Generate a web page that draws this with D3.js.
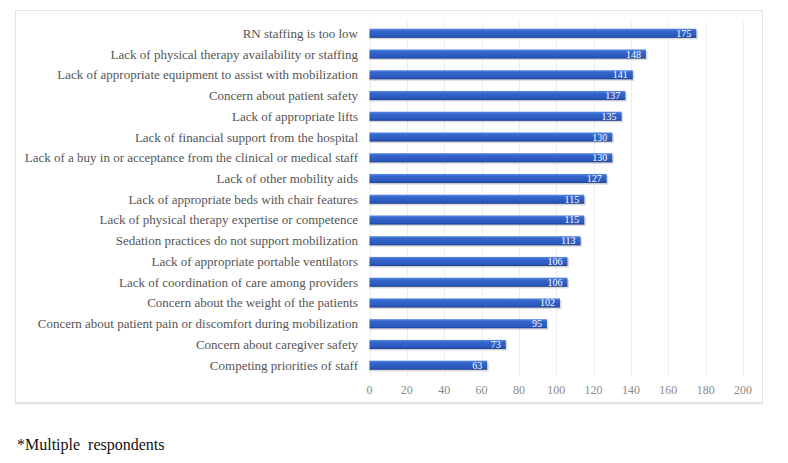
<!DOCTYPE html>
<html><head><meta charset="utf-8">
<script src="https://cdn.jsdelivr.net/npm/d3@7"></script>
</head>
<body style="margin:0"><svg id="chart" width="788" height="463"></svg>
<script>
const categories = [
  "RN staffing is too low",
  "Lack of physical therapy availability or staffing",
  "Lack of appropriate equipment to assist with mobilization",
  "Concern about patient safety",
  "Lack of appropriate lifts",
  "Lack of financial support from the hospital",
  "Lack of a buy in or acceptance from the clinical or medical staff",
  "Lack of other mobility aids",
  "Lack of appropriate beds with chair features",
  "Lack of physical therapy expertise or competence",
  "Sedation practices do not support mobilization",
  "Lack of appropriate portable ventilators",
  "Lack of coordination of care among providers",
  "Concern about the weight of the patients",
  "Concern about patient pain or discomfort during mobilization",
  "Concern about caregiver safety",
  "Competing priorities of staff"
];
const values = [175,148,141,137,135,130,130,127,115,115,113,106,106,102,95,73,63];
const xTicks = [0,20,40,60,80,100,120,140,160,180,200];
const footnote = "*Multiple  respondents";

const FONT = '"Liberation Serif"';
const svg = d3.select("#chart");
const defs = svg.append("defs");
const grad = defs.append("linearGradient").attr("id","barGrad").attr("x1",0).attr("y1",0).attr("x2",0).attr("y2",1);
grad.append("stop").attr("offset","0%").attr("stop-color","#5a8be6");
grad.append("stop").attr("offset","25%").attr("stop-color","#3566cc");
grad.append("stop").attr("offset","80%").attr("stop-color","#2a58bd");
grad.append("stop").attr("offset","100%").attr("stop-color","#1b3f92");

// outer frame
svg.append("rect").attr("x",15.5).attr("y",10.5).attr("width",747).attr("height",392)
  .attr("fill","#fff").attr("stroke","#e3e3e3");
svg.append("line").attr("x1",15).attr("x2",763).attr("y1",403.5).attr("y2",403.5)
  .attr("stroke","#e8e8e8").attr("stroke-width",2);

const x = d3.scaleLinear().domain([0,200]).range([369.5,743]);
const y = d3.scaleBand().domain(categories).range([22.5,376]).paddingInner(0.56).paddingOuter(0.3);

// gridlines
svg.append("g").selectAll("line").data(xTicks).join("line")
  .attr("x1",d=>Math.round(x(d))+0.5).attr("x2",d=>Math.round(x(d))+0.5)
  .attr("y1",22).attr("y2",376)
  .attr("stroke","#ececec").attr("stroke-width",1);

// bar shadows
svg.append("g").selectAll("rect").data(values).join("rect")
  .attr("x",x(0)).attr("y",(d,i)=>y(categories[i])+1.5)
  .attr("width",d=>x(d)-x(0)+1.5).attr("height",y.bandwidth())
  .attr("fill","#c9c9c9").attr("opacity",0.7);

// bars
svg.append("g").selectAll("rect").data(values).join("rect")
  .attr("x",x(0)).attr("y",(d,i)=>y(categories[i]))
  .attr("width",d=>x(d)-x(0)).attr("height",y.bandwidth())
  .attr("fill","url(#barGrad)");

// value labels
svg.append("g").selectAll("text").data(values).join("text")
  .attr("x",d=>x(d)-5).attr("y",(d,i)=>y(categories[i])+y.bandwidth()/2+3.5)
  .attr("text-anchor","end")
  .style("font-family",FONT).style("font-size","10px")
  .attr("fill","#ffffff").text(d=>d);

// category labels
svg.append("g").selectAll("text").data(categories).join("text")
  .attr("x",358).attr("y",d=>y(d)+y.bandwidth()/2+4.5)
  .attr("text-anchor","end")
  .style("font-family",FONT).style("font-size","13px")
  .attr("fill","#555555").text(d=>d);

// x tick labels
svg.append("g").selectAll("text").data(xTicks).join("text")
  .attr("x",d=>x(d)).attr("y",393.5).attr("text-anchor","middle")
  .style("font-family",FONT).style("font-size","12px")
  .attr("fill","#8a8a8a").text(d=>d);

svg.append("text").attr("x",17).attr("y",450)
  .style("font-family",FONT).style("font-size","16px").style("white-space","pre")
  .attr("fill","#111").text(footnote);
</script>
</body></html>
